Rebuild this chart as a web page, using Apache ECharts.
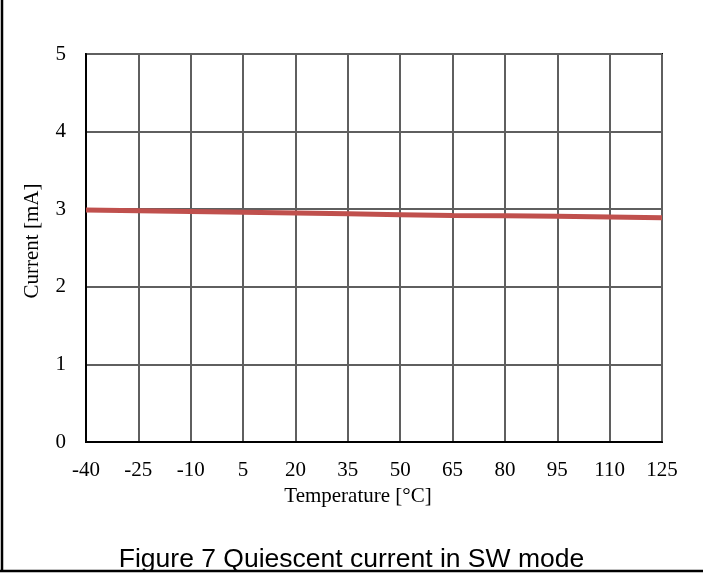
<!DOCTYPE html>
<html>
<head>
<meta charset="utf-8">
<script src="https://cdn.jsdelivr.net/npm/echarts@6/dist/echarts.min.js"></script>
<style>
  html, body { margin: 0; padding: 0; background: #fff; }
  #chart { width: 703px; height: 575px; }
</style>
</head>
<body>
<div id="chart"></div>
<script>
// Temperature points (°C) along the x axis
const temperatures = ['-40', '-25', '-10', '5', '20', '35', '50', '65', '80', '95', '110', '125'];
// Quiescent current in SW mode (mA) at each temperature
const currentMA = [2.99, 2.98, 2.97, 2.96, 2.95, 2.94, 2.93, 2.92, 2.915, 2.91, 2.90, 2.89];
// Y axis range and step
const yMin = 0, yMax = 5, yStep = 1;

const serif = '"Liberation Serif", "DejaVu Serif", serif';

const chart = echarts.init(document.getElementById('chart'), null, { renderer: 'canvas' });
chart.setOption({
  backgroundColor: '#ffffff',
  animation: false,
  title: {
    text: 'Figure 7 Quiescent current in SW mode',
    left: 'center',
    top: 541,
    textStyle: { fontFamily: '"Liberation Sans", Arial, sans-serif', fontSize: 26.5, fontWeight: 'normal', color: '#000' }
  },
  grid: {
    left: 86, right: 41, top: 54, bottom: 133,
    show: true, borderColor: '#000', borderWidth: 2, backgroundColor: 'transparent'
  },
  xAxis: {
    type: 'category',
    data: temperatures,
    boundaryGap: false,
    name: 'Temperature [°C]',
    nameLocation: 'middle',
    nameGap: 44,
    nameTextStyle: { fontFamily: serif, fontSize: 21, color: '#000', padding: [0, 32, 0, 0] },
    axisLine: { lineStyle: { color: '#000', width: 2 } },
    axisTick: { show: false },
    axisLabel: { fontFamily: serif, fontSize: 21, color: '#000', margin: 18 },
    splitLine: { show: true, lineStyle: { color: '#5f5f5f', width: 2 } }
  },
  yAxis: {
    type: 'value',
    min: yMin, max: yMax, interval: yStep,
    name: 'Current [mA]',
    nameLocation: 'middle',
    nameGap: 43,
    nameTextStyle: { fontFamily: serif, fontSize: 21, color: '#000', padding: [0, 0, 0, 14] },
    axisLine: { show: true, lineStyle: { color: '#000', width: 2 } },
    axisTick: { show: false },
    axisLabel: { fontFamily: serif, fontSize: 21, color: '#000', margin: 20 },
    splitLine: { show: true, lineStyle: { color: '#5f5f5f', width: 2 } }
  },
  series: [{
    type: 'line',
    data: currentMA,
    showSymbol: false,
    symbol: 'none',
    lineStyle: { color: '#C0504D', width: 5 },
    itemStyle: { color: '#C0504D' },
    z: 5
  }],
  graphic: [
    { type: 'line', shape: { x1: 2, y1: 0, x2: 2, y2: 571 }, style: { stroke: '#000', lineWidth: 2.5 } },
    { type: 'line', shape: { x1: 0, y1: 571, x2: 703, y2: 571 }, style: { stroke: '#000', lineWidth: 2.5 } }
  ]
});
</script>
</body>
</html>
